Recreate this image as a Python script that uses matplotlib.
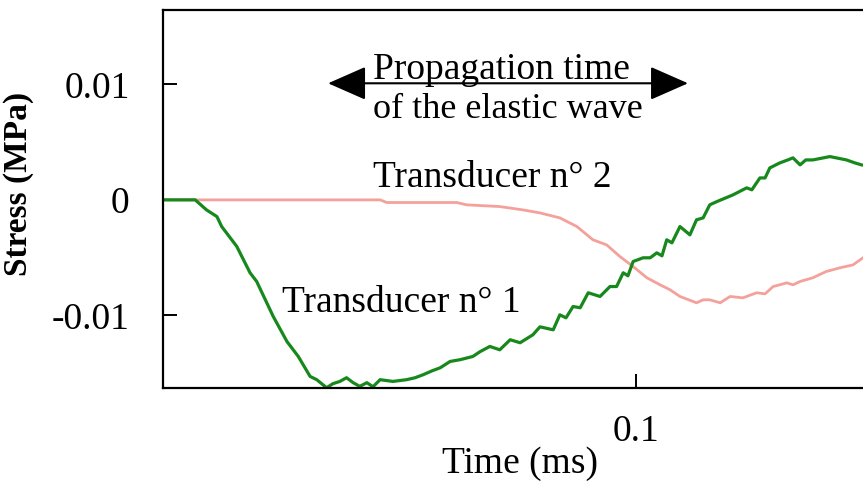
import matplotlib
matplotlib.use("Agg")
import matplotlib.pyplot as plt

# Time (ms) and stress (MPa)
t1 = [0.0000, 0.0068, 0.0092, 0.0114, 0.0124, 0.0156, 0.0184, 0.0198, 0.0233, 0.0262,
      0.0286, 0.0311, 0.0325, 0.0346, 0.0359, 0.0374, 0.0388, 0.0402, 0.0416, 0.0431,
      0.0444, 0.0459, 0.0486, 0.0515, 0.0533, 0.0550, 0.0569, 0.0586, 0.0607, 0.0628,
      0.0655, 0.0670, 0.0691, 0.0712, 0.0734, 0.0755, 0.0782, 0.0797, 0.0825, 0.0839,
      0.0852, 0.0867, 0.0882, 0.0899, 0.0924, 0.0945, 0.0959, 0.0973, 0.0983, 0.0994,
      0.1015, 0.1030, 0.1044, 0.1055, 0.1065, 0.1076, 0.1093, 0.1114, 0.1128, 0.1142,
      0.1156, 0.1171, 0.1205, 0.1234, 0.1245, 0.1262, 0.1273, 0.1283, 0.1304, 0.1321,
      0.1332, 0.1347, 0.1359, 0.1374, 0.1410, 0.1445, 0.1463, 0.1477]
s1 = [0.0, 0.0, -0.00087, -0.00145, -0.00231, -0.00404, -0.00632, -0.00707, -0.01010, -0.01227,
      -0.01357, -0.01530, -0.01558, -0.01628, -0.01593, -0.01573, -0.01541, -0.01584, -0.01616, -0.01584,
      -0.01619, -0.01558, -0.01573, -0.01558, -0.01541, -0.01515, -0.01481, -0.01455, -0.01400, -0.01385,
      -0.01357, -0.01316, -0.01270, -0.01299, -0.01212, -0.01238, -0.01169, -0.01100, -0.01126, -0.00996,
      -0.01022, -0.00924, -0.00935, -0.00805, -0.00837, -0.00751, -0.00751, -0.00632, -0.00658, -0.00534,
      -0.00502, -0.00502, -0.00459, -0.00485, -0.00346, -0.00372, -0.00231, -0.00303, -0.00173, -0.00156,
      -0.00043, -0.00015, 0.00043, 0.00104, 0.00087, 0.00190, 0.00190, 0.00277, 0.00320, 0.00346,
      0.00364, 0.00303, 0.00346, 0.00346, 0.00375, 0.00346, 0.00320, 0.00303]

t2 = [0.0000, 0.0459, 0.0473, 0.0621, 0.0642, 0.0712, 0.0761, 0.0797, 0.0839, 0.0875,
      0.0909, 0.0938, 0.0966, 0.0994, 0.1023, 0.1051, 0.1072, 0.1093, 0.1128, 0.1142,
      0.1156, 0.1178, 0.1199, 0.1226, 0.1255, 0.1273, 0.1290, 0.1319, 0.1332, 0.1347,
      0.1374, 0.1402, 0.1431, 0.1459, 0.1480]
s2 = [0.0, 0.0, -0.00023, -0.00023, -0.00043, -0.00058, -0.00087, -0.00113, -0.00156, -0.00231,
      -0.00346, -0.00390, -0.00491, -0.00578, -0.00675, -0.00736, -0.00779, -0.00837, -0.00892, -0.00866,
      -0.00866, -0.00892, -0.00837, -0.00849, -0.00805, -0.00814, -0.00751, -0.00719, -0.00736, -0.00707,
      -0.00675, -0.00621, -0.00589, -0.00563, -0.00502]

yticks = [0.01, 0.0, -0.01]
ytick_labels = ["0.01", "0", "-0.01"]
xticks = [0.1]
xtick_labels = ["0.1"]

plt.rcParams["font.family"] = ["Liberation Serif", "DejaVu Serif"]
FS = 27

fig = plt.figure(figsize=(8.63, 4.83), dpi=100)
ax = fig.add_axes([0.1889, 0.1967, 0.8111, 0.7826])

ax.plot(t2, s2, color="#f4a19b", lw=2.0)
ax.plot(t1, s1, color="#17891c", lw=2.3)

ax.set_xlim(0, 0.148)
ax.set_ylim(-0.0163, 0.01645)

ax.set_xticks(xticks)
ax.set_xticklabels(xtick_labels)
ax.set_yticks(yticks)
ax.set_yticklabels(ytick_labels)
ax.tick_params(direction="in", length=10, width=1.4, labelsize=FS)
ax.tick_params(axis="y", pad=24)
ax.tick_params(axis="x", pad=19)

ax.spines["right"].set_visible(False)
for sp in ("left", "top", "bottom"):
    ax.spines[sp].set_linewidth(1.6)

ax.set_xlabel("Time (ms)", fontsize=FS)
ax.xaxis.set_label_coords(0.51, -0.155)
ax.set_ylabel("Stress (MPa)", fontsize=24, fontweight="bold")
ax.yaxis.set_label_coords(-0.185, 0.54)

ax.annotate("", xy=(0.0349, 0.0101), xytext=(0.1110, 0.0101),
            arrowprops=dict(arrowstyle="<|-|>,head_length=0.75,head_width=0.33",
                            color="black", lw=1.5, mutation_scale=32,
                            shrinkA=0, shrinkB=0))
ax.text(0.0444, 0.0113, "Propagation time", fontsize=FS, ha="left", va="center")
ax.text(0.0444, 0.0078, "of the elastic wave", fontsize=26, ha="left", va="center")

ax.text(0.0444, 0.00195, "Transducer n° 2", fontsize=FS, ha="left", va="center")
ax.text(0.0252, -0.00893, "Transducer n° 1", fontsize=FS, ha="left", va="center")

fig.savefig("out.png", dpi=100)
